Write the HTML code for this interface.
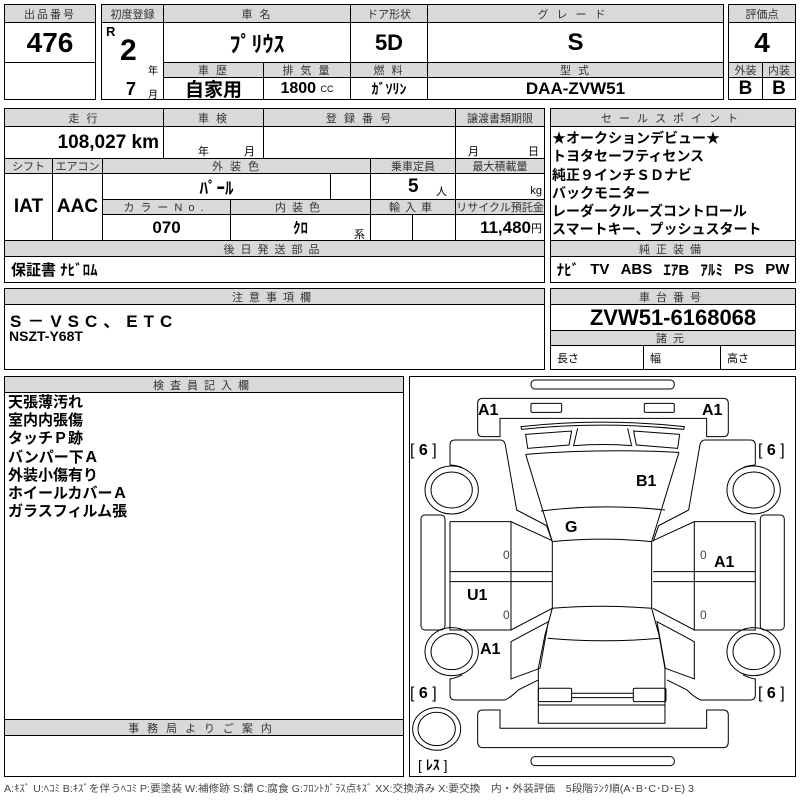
<!DOCTYPE html>
<html><head><meta charset="utf-8"><style>
*{margin:0;padding:0;box-sizing:border-box}
body{width:800px;height:800px;background:#fff;position:relative;overflow:hidden;font-family:"Liberation Sans","Noto Sans CJK JP",sans-serif;color:#000}
.c{position:absolute;border:1px solid #000;display:flex;align-items:center;justify-content:center;white-space:nowrap}
.h{background:#d9d9d9;font-size:11px;color:#333;letter-spacing:2px}
.b{font-weight:bold}
.t{position:absolute;white-space:nowrap}
</style></head><body>
<!-- top -->
<div class="c h" style="left:4px;top:4px;width:92px;height:19px">出品番号</div>
<div class="c b" style="left:4px;top:22px;width:92px;height:41px;font-size:28px">476</div>
<div class="c" style="left:4px;top:62px;width:92px;height:38px"></div>

<div class="c h" style="left:101px;top:4px;width:63px;height:19px;letter-spacing:0">初度登録</div>
<div class="c h" style="left:163px;top:4px;width:188px;height:19px">車 名</div>
<div class="c h" style="left:350px;top:4px;width:78px;height:19px;letter-spacing:0">ドア形状</div>
<div class="c h" style="left:427px;top:4px;width:297px;height:19px;letter-spacing:8px">グレード</div>
<div class="c" style="left:101px;top:22px;width:63px;height:78px"></div>
<div class="t b" style="left:106px;top:24px;font-size:13px">R</div>
<div class="t b" style="left:120px;top:34px;font-size:30px">2</div>
<div class="t" style="left:148px;top:62px;font-size:10px">年</div>
<div class="t b" style="left:126px;top:79px;font-size:18px">7</div>
<div class="t" style="left:148px;top:86px;font-size:10px">月</div>
<div class="c b" style="left:163px;top:22px;width:188px;height:41px;font-size:22px">ﾌﾟﾘｳｽ</div>
<div class="c b" style="left:350px;top:22px;width:78px;height:41px;font-size:22px">5D</div>
<div class="c b" style="left:427px;top:22px;width:297px;height:41px;font-size:24px">S</div>
<div class="c h" style="left:163px;top:62px;width:101px;height:16px">車 歴</div>
<div class="c h" style="left:263px;top:62px;width:88px;height:16px">排 気 量</div>
<div class="c h" style="left:350px;top:62px;width:78px;height:16px">燃 料</div>
<div class="c h" style="left:427px;top:62px;width:297px;height:16px">型 式</div>
<div class="c b" style="left:163px;top:77px;width:101px;height:23px;font-size:19px">自家用</div>
<div class="c b" style="left:263px;top:77px;width:88px;height:23px;font-size:16px">1800&nbsp;<span style="font-size:9px;font-weight:normal">CC</span></div>
<div class="c b" style="left:350px;top:77px;width:78px;height:23px;font-size:14px">ｶﾞｿﾘﾝ</div>
<div class="c b" style="left:427px;top:77px;width:297px;height:23px;font-size:17px">DAA-ZVW51</div>

<div class="c h" style="left:728px;top:4px;width:68px;height:19px;letter-spacing:0">評価点</div>
<div class="c b" style="left:728px;top:22px;width:68px;height:41px;font-size:28px">4</div>
<div class="c h" style="left:728px;top:62px;width:35px;height:16px;letter-spacing:0">外装</div>
<div class="c h" style="left:762px;top:62px;width:34px;height:16px;letter-spacing:0">内装</div>
<div class="c b" style="left:728px;top:77px;width:35px;height:23px;font-size:19px">B</div>
<div class="c b" style="left:762px;top:77px;width:34px;height:23px;font-size:19px">B</div>

<!-- row2 -->
<div class="c h" style="left:4px;top:108px;width:160px;height:19px">走 行</div>
<div class="c h" style="left:163px;top:108px;width:101px;height:19px">車 検</div>
<div class="c h" style="left:263px;top:108px;width:193px;height:19px">登 録 番 号</div>
<div class="c h" style="left:455px;top:108px;width:90px;height:19px;letter-spacing:0">譲渡書類期限</div>
<div class="c b" style="left:4px;top:126px;width:160px;height:33px;font-size:19px;justify-content:flex-end;padding-right:4px">108,027 km</div>
<div class="c" style="left:163px;top:126px;width:101px;height:33px"></div>
<div class="t" style="left:198px;top:143px;font-size:11px">年</div>
<div class="t" style="left:244px;top:143px;font-size:11px">月</div>
<div class="c" style="left:263px;top:126px;width:193px;height:33px"></div>
<div class="c" style="left:455px;top:126px;width:90px;height:33px"></div>
<div class="t" style="left:468px;top:143px;font-size:11px">月</div>
<div class="t" style="left:528px;top:143px;font-size:11px">日</div>

<div class="c h" style="left:4px;top:158px;width:49px;height:16px;letter-spacing:0">シフト</div>
<div class="c h" style="left:52px;top:158px;width:51px;height:16px;letter-spacing:0">エアコン</div>
<div class="c h" style="left:102px;top:158px;width:269px;height:16px">外 装 色</div>
<div class="c h" style="left:370px;top:158px;width:86px;height:16px;letter-spacing:0">乗車定員</div>
<div class="c h" style="left:455px;top:158px;width:90px;height:16px;letter-spacing:0">最大積載量</div>
<div class="c b" style="left:4px;top:173px;width:49px;height:68px;font-size:19px">IAT</div>
<div class="c b" style="left:52px;top:173px;width:51px;height:68px;font-size:19px">AAC</div>
<div class="c b" style="left:102px;top:173px;width:229px;height:27px;font-size:17px">ﾊﾟｰﾙ</div>
<div class="c" style="left:330px;top:173px;width:41px;height:27px"></div>
<div class="c" style="left:370px;top:173px;width:86px;height:27px"></div>
<div class="t b" style="left:408px;top:176px;font-size:19px">5</div>
<div class="t" style="left:436px;top:183px;font-size:11px">人</div>
<div class="c" style="left:455px;top:173px;width:90px;height:27px;justify-content:flex-end;padding:8px 2px 0 0;font-size:11px">kg</div>
<div class="c h" style="left:102px;top:199px;width:129px;height:16px;letter-spacing:6px">カラーNo.</div>
<div class="c h" style="left:230px;top:199px;width:141px;height:16px;letter-spacing:6px">内装色</div>
<div class="c h" style="left:370px;top:199px;width:86px;height:16px;letter-spacing:5px">輸入車</div>
<div class="c h" style="left:455px;top:199px;width:90px;height:16px;letter-spacing:0">リサイクル預託金</div>
<div class="c b" style="left:102px;top:214px;width:129px;height:27px;font-size:17px">070</div>
<div class="c b" style="left:230px;top:214px;width:141px;height:27px;font-size:15px">ｸﾛ</div>
<div class="t" style="left:354px;top:226px;font-size:11px">系</div>
<div class="c" style="left:370px;top:214px;width:43px;height:27px"></div>
<div class="c" style="left:412px;top:214px;width:44px;height:27px"></div>
<div class="c b" style="left:455px;top:214px;width:90px;height:27px;font-size:17px;justify-content:flex-end;padding-right:2px">11,480<span style="font-size:11px;font-weight:normal">円</span></div>
<div class="c h" style="left:4px;top:240px;width:541px;height:17px;letter-spacing:6px">後日発送部品</div>
<div class="c b" style="left:4px;top:256px;width:541px;height:27px;font-size:15px;justify-content:flex-start;padding-left:6px">保証書 ﾅﾋﾞﾛﾑ</div>

<div class="c h" style="left:550px;top:108px;width:246px;height:19px;letter-spacing:7px">セールスポイント</div>
<div class="c" style="left:550px;top:126px;width:246px;height:115px"></div>
<div class="t b" style="left:552px;top:129px;font-size:14px;line-height:18.3px">★オークションデビュー★<br>トヨタセーフティセンス<br>純正９インチＳＤナビ<br>バックモニター<br>レーダークルーズコントロール<br>スマートキー、プッシュスタート</div>
<div class="c h" style="left:550px;top:240px;width:246px;height:17px;letter-spacing:6px">純正装備</div>
<div class="c b" style="left:550px;top:256px;width:246px;height:27px;font-size:15px;justify-content:space-around">
<span>ﾅﾋﾞ</span><span>TV</span><span>ABS</span><span>ｴｱB</span><span>ｱﾙﾐ</span><span>PS</span><span>PW</span></div>

<!-- row3 -->
<div class="c h" style="left:4px;top:288px;width:541px;height:17px;letter-spacing:6px">注意事項欄</div>
<div class="c" style="left:4px;top:304px;width:541px;height:66px"></div>
<div class="t b" style="left:10px;top:307px;font-size:17px;letter-spacing:6px">S－VSC、ETC</div>
<div class="t b" style="left:9px;top:328px;font-size:14px">NSZT-Y68T</div>
<div class="c h" style="left:550px;top:288px;width:246px;height:17px;letter-spacing:6px">車台番号</div>
<div class="c b" style="left:550px;top:304px;width:246px;height:27px;font-size:22px">ZVW51-6168068</div>
<div class="c h" style="left:550px;top:330px;width:246px;height:16px;letter-spacing:6px">諸元</div>
<div class="c" style="left:550px;top:345px;width:94px;height:25px;justify-content:flex-start;padding-left:6px;font-size:11px">長さ</div>
<div class="c" style="left:643px;top:345px;width:78px;height:25px;justify-content:flex-start;padding-left:6px;font-size:11px">幅</div>
<div class="c" style="left:720px;top:345px;width:76px;height:25px;justify-content:flex-start;padding-left:6px;font-size:11px">高さ</div>

<!-- row4 -->
<div class="c h" style="left:4px;top:376px;width:400px;height:17px;letter-spacing:6px">検査員記入欄</div>
<div class="c" style="left:4px;top:392px;width:400px;height:328px"></div>
<div class="t b" style="left:8px;top:394px;font-size:15px;line-height:18.2px">天張薄汚れ<br>室内内張傷<br>タッチＰ跡<br>バンパー下Ａ<br>外装小傷有り<br>ホイールカバーＡ<br>ガラスフィルム張</div>
<div class="c h" style="left:4px;top:719px;width:400px;height:17px;letter-spacing:8px">事務局よりご案内</div>
<div class="c" style="left:4px;top:735px;width:400px;height:42px"></div>

<div class="c" style="left:409px;top:376px;width:387px;height:401px"></div>
<svg style="position:absolute;left:0;top:0" width="800" height="800">
<g transform="translate(405,375) scale(0.3333)" fill="none" stroke="#000" stroke-width="3">
<rect x="378" y="15" width="430" height="27" rx="12"/>
<rect x="378" y="1145" width="430" height="27" rx="12"/>
<path d="M218,85 Q218,70 233,70 L955,70 Q970,70 970,85 L970,170 Q970,185 955,185 L905,185 L905,130 L285,130 L285,185 L233,185 Q218,185 218,170 Z"/>
<path d="M218,1100 Q218,1118 233,1118 L955,1118 Q970,1118 970,1100 L970,1020 Q970,1005 955,1005 L905,1005 L905,1060 L285,1060 L285,1005 L233,1005 Q218,1005 218,1020 Z"/>
<rect x="378" y="85" width="92" height="27" rx="4"/>
<rect x="718" y="85" width="90" height="27" rx="4"/>
<path d="M348,155 Q593,128 838,155 L836,163 Q593,138 350,163 Z"/>
<path d="M362,178 L500,168 L492,210 L368,220 Z"/>
<path d="M824,178 L686,168 L694,210 L818,220 Z"/>
<path d="M518,160 L506,212 Q593,205 680,212 L668,160"/>
<path d="M362,238 Q592,220 822,232"/>
<path d="M362,238 L442,500 M822,232 L740,500"/>
<path d="M408,408 Q592,385 780,405"/>
<path d="M442,500 Q592,485 740,500"/>
<path d="M442,500 L442,700 M740,500 L740,700"/>
<path d="M442,700 Q592,688 740,700"/>
<path d="M442,700 L420,780 L400,880 L400,1045 L780,1045 L780,880 L762,780 L740,700"/>
<path d="M428,790 Q592,805 765,790"/>
<rect x="400" y="940" width="100" height="40" rx="4"/>
<rect x="685" y="940" width="98" height="40" rx="4"/>
<path d="M500,955 L685,955 M500,968 L685,968 M400,990 L780,990"/>
<g id="L">
<path d="M135,270 L135,210 Q135,195 150,195 L285,195 Q300,195 302,215 L335,405 L425,452 L442,500"/>
<path d="M135,270 Q160,272 172,278"/>
<ellipse cx="140" cy="345" rx="80" ry="72"/>
<ellipse cx="140" cy="345" rx="62" ry="54"/>
<path d="M135,440 L318,440 L442,497"/>
<path d="M135,440 L135,765 L318,765 L442,700"/>
<path d="M318,440 L318,765 M135,590 L442,590 M135,620 L442,620"/>
<rect x="48" y="420" width="72" height="345" rx="12"/>
<ellipse cx="140" cy="830" rx="80" ry="72"/>
<ellipse cx="140" cy="830" rx="62" ry="54"/>
<path d="M318,800 L430,740 L405,880 L318,912 Z"/>
<path d="M172,900 Q150,910 135,912 L135,960 Q135,975 150,975 L300,975 Q320,965 340,945 L400,915"/>
</g>
<use href="#L" transform="translate(1186,0) scale(-1,1)"/>
<ellipse cx="95" cy="1062" rx="72" ry="64"/>
<ellipse cx="95" cy="1062" rx="56" ry="50"/>
</g>
<g font-family="Liberation Sans,Noto Sans CJK JP,sans-serif" font-weight="bold" font-size="16">
<text x="478" y="415">A1</text><text x="702" y="415">A1</text>
<text x="636" y="486">B1</text><text x="565" y="532">G</text>
<text x="714" y="567">A1</text><text x="467" y="600">U1</text><text x="480" y="654">A1</text>
<text x="410" y="455" font-weight="normal">[ <tspan font-weight="bold">6</tspan> ]</text>
<text x="758" y="455" font-weight="normal">[ <tspan font-weight="bold">6</tspan> ]</text>
<text x="410" y="698" font-weight="normal">[ <tspan font-weight="bold">6</tspan> ]</text>
<text x="758" y="698" font-weight="normal">[ <tspan font-weight="bold">6</tspan> ]</text>
<text x="418" y="770" font-weight="normal" font-size="14">[ <tspan font-weight="bold">ﾚｽ</tspan> ]</text>
</g>
<g font-family="Liberation Sans,Noto Sans CJK JP,sans-serif" font-size="12" fill="#444">
<text x="503" y="559">0</text><text x="503" y="619">0</text>
<text x="700" y="559">0</text><text x="700" y="619">0</text>
</g>
<text x="4" y="792" font-family="Liberation Sans,Noto Sans CJK JP,sans-serif" font-size="10" fill="#444" textLength="690" lengthAdjust="spacingAndGlyphs">A:ｷｽﾞ U:ﾍｺﾐ B:ｷｽﾞを伴うﾍｺﾐ P:要塗装 W:補修跡 S:錆 C:腐食 G:ﾌﾛﾝﾄｶﾞﾗｽ点ｷｽﾞ XX:交換済み X:要交換　内・外装評価　5段階ﾗﾝｸ順(A･B･C･D･E) 3</text>
</svg>
</body></html>
